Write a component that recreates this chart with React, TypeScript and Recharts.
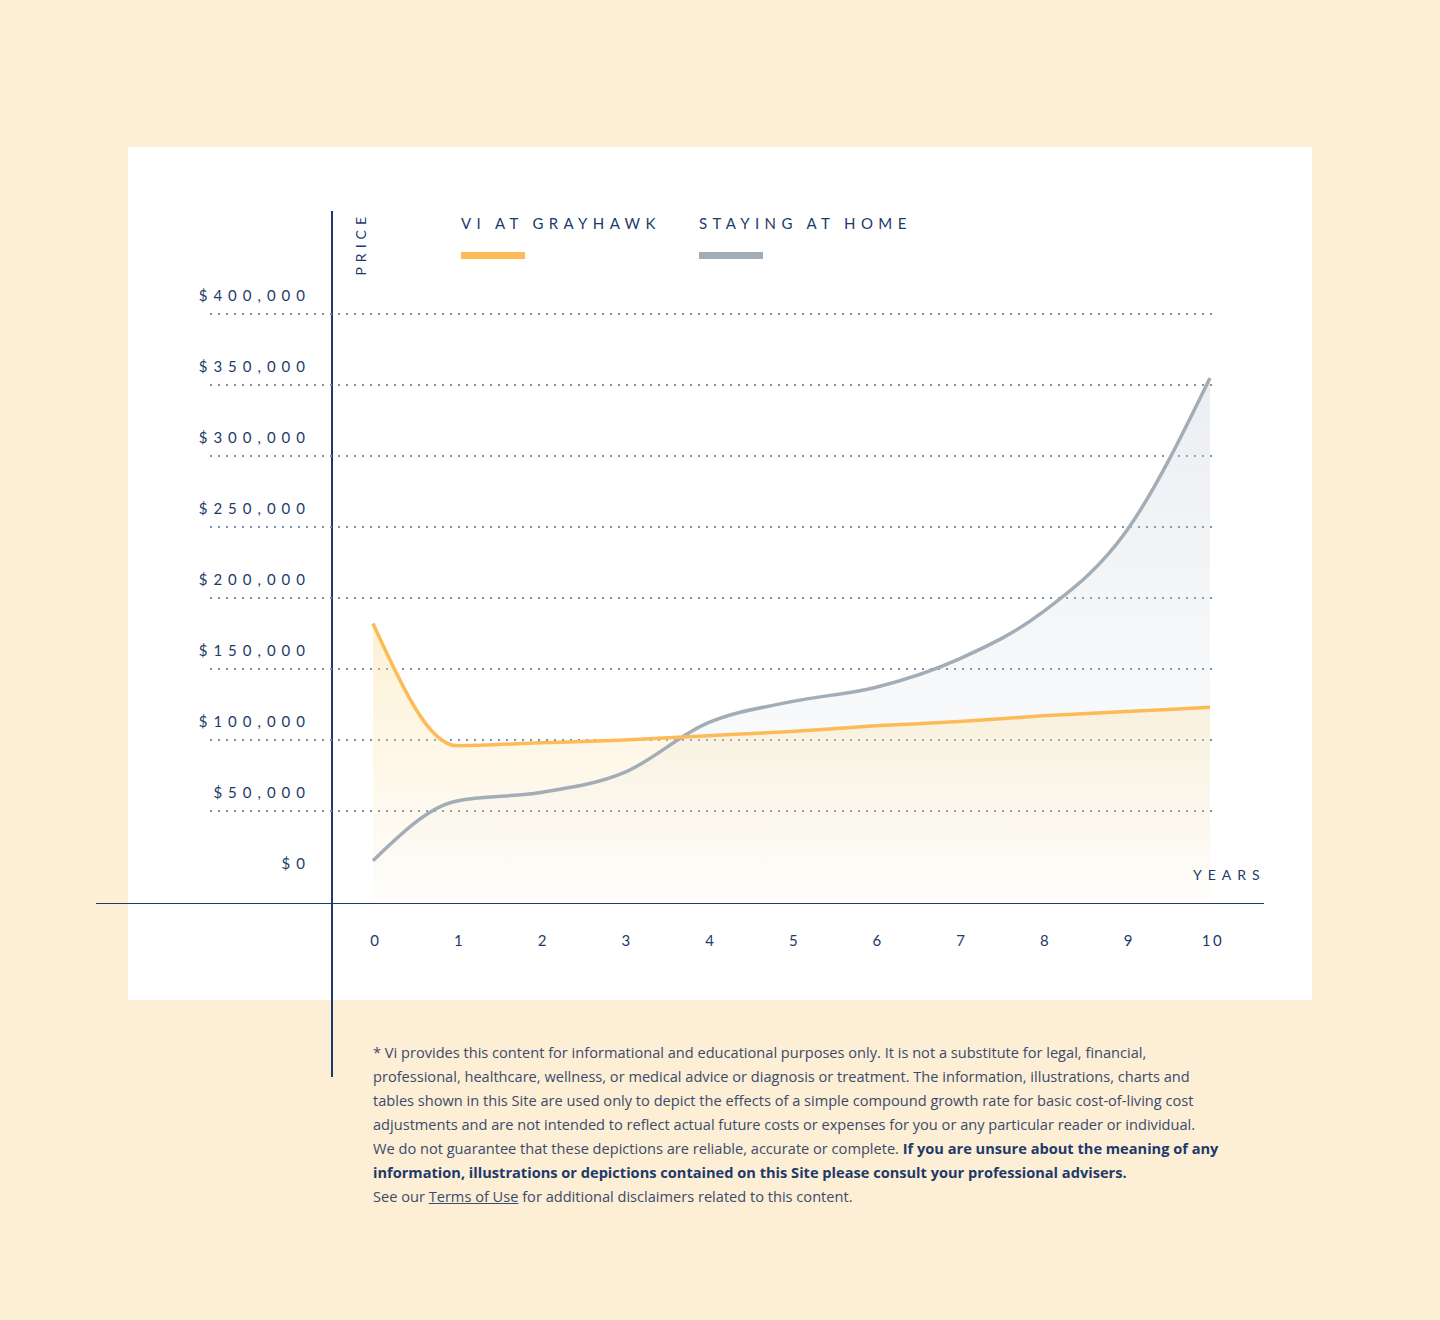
import React from "react";
import {
  ComposedChart,
  Area,
  Line,
  XAxis,
  YAxis,
  CartesianGrid,
} from "recharts";

// chart values
const years = [0, 1, 2, 3, 4, 5, 6, 7, 8, 9, 10];
const viAtGrayhawk = [182000, 96000, 98000, 100000, 103000, 106000, 110000, 113000, 117000, 120000, 123000];
const stayingAtHome = [15000, 57000, 63000, 77000, 112000, 127000, 137000, 157000, 190000, 247000, 355000];
const priceTicks = [0, 50000, 100000, 150000, 200000, 250000, 300000, 350000, 400000];
const gridValues = [50000, 100000, 150000, 200000, 250000, 300000, 350000, 400000];
const yearTicks = [0, 1, 2, 3, 4, 5, 6, 7, 8, 9, 10];

// the value axis runs a little below $0 so the fills reach the x axis line
const Y_MIN = -14800;
const Y_MAX = 400000;

const NAVY = "#1d3a6a";
const ORANGE = "#fcbb57";
const GRAY = "#a3adb8";
const CREAM = "#fdeed6";
const FONT = "Lato, 'Open Sans', sans-serif";

const data = years.map((year, i) => ({
  year,
  vi: viAtGrayhawk[i],
  home: stayingAtHome[i],
}));

const legendItems = [
  { label: "VI AT GRAYHAWK", color: ORANGE },
  { label: "STAYING AT HOME", color: GRAY },
];

const formatPrice = (v: number) => "$" + v.toLocaleString("en-US");

const PriceTick = (props: any) => {
  const { x, y, payload } = props;
  return (
    <text
      x={x + 101}
      y={y - 13}
      textAnchor="end"
      fill={NAVY}
      fontSize={15}
      fontFamily={FONT}
      style={{ letterSpacing: "6px" }}
    >
      {formatPrice(payload.value)}
    </text>
  );
};

const YearTick = (props: any) => {
  const { x, y, payload } = props;
  return (
    <text
      x={x + 3}
      y={y + 43}
      textAnchor="middle"
      fill={NAVY}
      fontSize={15}
      fontFamily={FONT}
      style={{ letterSpacing: "2.5px" }}
    >
      {payload.value}
    </text>
  );
};

const ChartLegend = () => (
  <div style={{ position: "absolute", left: 461, top: 214, display: "flex", fontFamily: FONT }}>
    {legendItems.map((item, idx) => (
      <div key={item.label} style={{ width: idx === 0 ? 238 : 260 }}>
        <div
          style={{
            color: NAVY,
            fontSize: 15,
            letterSpacing: "5.4px",
            lineHeight: "18px",
            whiteSpace: "nowrap",
          }}
        >
          {item.label}
        </div>
        <div style={{ width: 64, height: 7, background: item.color, marginTop: 20 }} />
      </div>
    ))}
  </div>
);

export default function App() {
  return (
    <div
      style={{
        position: "absolute",
        left: 0,
        top: 0,
        width: 1440,
        height: 1320,
        background: CREAM,
        overflow: "hidden",
        fontFamily: FONT,
      }}
    >
      {/* white panel */}
      <div style={{ position: "absolute", left: 128, top: 147, width: 1184, height: 853, background: "#fff" }} />
      {/* axis lines */}
      <div style={{ position: "absolute", left: 331, top: 211, width: 1.5, height: 866, background: NAVY }} />
      <div style={{ position: "absolute", left: 96, top: 902.5, width: 1168, height: 1.2, background: NAVY }} />

      <div style={{ position: "absolute", left: 0, top: 0 }}>
        <ComposedChart
          width={1440}
          height={1320}
          data={data}
          margin={{ top: 314, right: 228, bottom: 416, left: 209 }}
        >
          <defs>
            <linearGradient id="viFill" x1="0" y1="0" x2="0" y2="1">
              <stop offset="0%" stopColor="#fbe0a0" stopOpacity={0.72} />
              <stop offset="100%" stopColor="#fbe0a0" stopOpacity={0.06} />
            </linearGradient>
            <linearGradient id="homeFill" x1="0" y1="0" x2="0" y2="1">
              <stop offset="0%" stopColor="#c4ccd6" stopOpacity={0.55} />
              <stop offset="100%" stopColor="#c4ccd6" stopOpacity={0} />
            </linearGradient>
          </defs>
          <CartesianGrid
            vertical={false}
            horizontalValues={gridValues}
            stroke="#7d8fa6"
            strokeWidth={2}
            strokeDasharray="2 6"
          />
          <XAxis
            dataKey="year"
            type="number"
            domain={[-1.947, 10.024]}
            ticks={yearTicks}
            height={1}
            axisLine={false}
            tickLine={false}
            tickSize={0}
            tickMargin={0}
            tick={<YearTick />}
            interval={0}
            allowDataOverflow
          />
          <YAxis
            type="number"
            domain={[Y_MIN, Y_MAX]}
            ticks={priceTicks}
            width={1}
            axisLine={false}
            tickLine={false}
            tickSize={0}
            tickMargin={0}
            tick={<PriceTick />}
            interval={0}
            allowDataOverflow
          />
          <Area
            type="monotone"
            dataKey="home"
            baseValue={Y_MIN}
            stroke="none"
            fill="url(#homeFill)"
            isAnimationActive={false}
          />
          <Area
            type="monotone"
            dataKey="vi"
            baseValue={Y_MIN}
            stroke="none"
            fill="url(#viFill)"
            isAnimationActive={false}
          />
          <Line
            type="monotone"
            dataKey="home"
            stroke={GRAY}
            strokeWidth={3.5}
            dot={false}
            activeDot={false}
            isAnimationActive={false}
          />
          <Line
            type="monotone"
            dataKey="vi"
            stroke={ORANGE}
            strokeWidth={3.5}
            dot={false}
            activeDot={false}
            isAnimationActive={false}
          />
        </ComposedChart>
      </div>

      <ChartLegend />

      {/* axis titles */}
      <div
        style={{
          position: "absolute",
          left: 353,
          top: 212,
          writingMode: "vertical-rl",
          transform: "rotate(180deg)",
          color: NAVY,
          fontSize: 14,
          letterSpacing: "5px",
          lineHeight: "16px",
        }}
      >
        PRICE
      </div>
      <div
        style={{
          position: "absolute",
          left: 1193,
          top: 866,
          color: NAVY,
          fontSize: 14,
          letterSpacing: "6px",
          lineHeight: "18px",
        }}
      >
        YEARS
      </div>

      {/* footnote */}
      <div
        style={{
          position: "absolute",
          left: 373,
          top: 1040,
          color: "#3b4b6b",
          fontFamily: "'Open Sans', sans-serif",
          fontSize: 14.6,
          lineHeight: "24px",
          whiteSpace: "nowrap",
        }}
      >
        * Vi provides this content for informational and educational purposes only. It is not a substitute for legal, financial,
        <br />
        professional, healthcare, wellness, or medical advice or diagnosis or treatment. The information, illustrations, charts and
        <br />
        tables shown in this Site are used only to depict the effects of a simple compound growth rate for basic cost-of-living cost
        <br />
        adjustments and are not intended to reflect actual future costs or expenses for you or any particular reader or individual.
        <br />
        We do not guarantee that these depictions are reliable, accurate or complete.{" "}
        <b style={{ color: NAVY }}>If you are unsure about the meaning of any</b>
        <br />
        <b style={{ color: NAVY }}>
          information, illustrations or depictions contained on this Site please consult your professional advisers.
        </b>
        <br />
        See our <span style={{ textDecoration: "underline" }}>Terms of Use</span> for additional disclaimers related to this
        content.
      </div>
    </div>
  );
}
